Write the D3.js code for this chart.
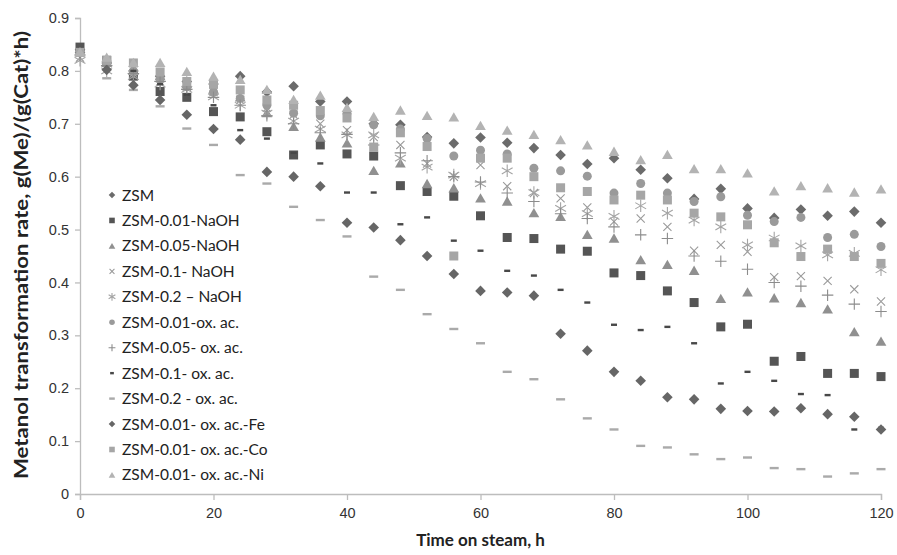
<!DOCTYPE html>
<html>
<head>
<meta charset="utf-8">
<script src="https://cdn.jsdelivr.net/npm/d3@7"></script>
<style>
  body { margin: 0; background: #fff; }
  svg { font-family: Lato, "Open Sans", sans-serif; }
</style>
</head>
<body>
<div id="chart"></div>
<script>
// time on steam, h (every 4 h)
const hours = [0,4,8,12,16,20,24,28,32,36,40,44,48,52,56,60,64,68,72,76,80,84,88,92,96,100,104,108,112,116,120];

const seriesNames = ["ZSM", "ZSM-0.01-NaOH", "ZSM-0.05-NaOH", "ZSM-0.1- NaOH", "ZSM-0.2 \u2013 NaOH",
  "ZSM-0.01-ox. ac.", "ZSM-0.05- ox. ac.", "ZSM-0.1- ox. ac.", "ZSM-0.2 - ox. ac.",
  "ZSM-0.01- ox. ac.-Fe", "ZSM-0.01- ox. ac.-Co", "ZSM-0.01- ox. ac.-Ni"];

// values, g(Me)/(g(Cat)*h)
const zsm      = [0.840,0.815,0.800,0.790,0.780,0.775,0.790,0.760,0.771,0.742,0.742,0.700,0.698,0.675,0.663,0.674,0.664,0.654,0.641,0.624,0.635,0.613,0.597,0.558,0.577,0.540,0.522,0.538,0.526,0.534,0.513];
const naoh001  = [0.845,0.820,0.790,0.761,0.750,0.723,0.713,0.685,0.641,0.660,0.643,0.639,0.583,0.572,0.563,0.526,0.485,0.483,0.463,0.459,0.418,0.413,0.384,0.362,0.316,0.321,0.251,0.260,0.228,0.228,0.222];
const naoh005  = [0.835,0.815,0.800,0.790,0.775,0.765,0.750,0.720,0.694,0.674,0.663,0.611,0.625,0.586,0.578,0.559,0.553,0.531,0.524,0.490,0.483,0.442,0.433,0.422,0.369,0.381,0.370,0.361,0.349,0.306,0.288];
const naoh01   = [0.825,0.810,0.795,0.780,0.770,0.760,0.745,0.730,0.717,0.700,0.688,0.675,0.660,0.625,0.600,0.622,0.582,0.569,0.559,0.542,0.515,0.521,0.505,0.460,0.471,0.458,0.410,0.412,0.403,0.387,0.364];
const naoh02   = [0.820,0.800,0.789,0.775,0.765,0.751,0.735,0.720,0.705,0.690,0.679,0.679,0.635,0.618,0.603,0.587,0.611,0.570,0.540,0.530,0.525,0.545,0.531,0.518,0.505,0.471,0.484,0.469,0.452,0.455,0.424];
const ox001    = [0.835,0.815,0.800,0.785,0.770,0.760,0.748,0.735,0.720,0.715,0.720,0.698,0.690,0.672,0.639,0.650,0.643,0.616,0.611,0.601,0.569,0.587,0.569,0.553,0.562,0.527,0.515,0.523,0.485,0.491,0.468];
const ox005    = [0.830,0.810,0.795,0.780,0.765,0.750,0.735,0.715,0.700,0.683,0.680,0.660,0.645,0.630,0.600,0.590,0.569,0.553,0.530,0.521,0.505,0.490,0.483,0.450,0.440,0.425,0.400,0.393,0.376,0.359,0.345];
const ox01     = [0.840,0.825,0.800,0.775,0.755,0.735,0.688,0.672,0.645,0.625,0.570,0.570,0.510,0.523,0.479,0.460,0.422,0.413,0.386,0.362,0.320,0.310,0.316,0.285,0.209,0.231,0.214,0.189,0.187,0.122,0.125];
const ox02     = [0.830,0.786,0.764,0.733,0.691,0.660,0.603,0.587,0.543,0.518,0.487,0.411,0.386,0.340,0.312,0.285,0.231,0.217,0.179,0.143,0.122,0.091,0.088,0.075,0.066,0.069,0.049,0.047,0.033,0.039,0.047];
const oxFe     = [0.835,0.802,0.773,0.745,0.717,0.690,0.670,0.609,0.600,0.582,0.513,0.504,0.480,0.450,0.416,0.384,0.381,0.375,0.303,0.271,0.231,0.214,0.183,0.179,0.161,0.157,0.156,0.162,0.151,0.146,0.122];
const oxCo     = [0.835,0.820,0.815,0.798,0.780,0.775,0.764,0.745,0.735,0.725,0.711,0.656,0.683,0.657,0.450,0.635,0.635,0.600,0.579,0.572,0.556,0.565,0.556,0.531,0.524,0.509,0.475,0.449,0.463,0.449,0.436];
const oxNi     = [0.835,0.825,0.815,0.815,0.798,0.789,0.783,0.764,0.745,0.753,0.730,0.713,0.725,0.715,0.712,0.696,0.687,0.679,0.669,0.659,0.647,0.631,0.641,0.614,0.614,0.606,0.572,0.582,0.578,0.570,0.576];

const seriesValues = [zsm, naoh001, naoh005, naoh01, naoh02, ox001, ox005, ox01, ox02, oxFe, oxCo, oxNi];

const xTicks = [0, 20, 40, 60, 80, 100, 120];
const yTicks = [0, 0.1, 0.2, 0.3, 0.4, 0.5, 0.6, 0.7, 0.8, 0.9];

// marker look per series
const styles = [
  {kind: "diamond",  color: "#6b6b6b", size: 7.5},
  {kind: "square",   color: "#555555", size: 9},
  {kind: "triangle", color: "#909090", size: 10},
  {kind: "x",        color: "#9a9a9a", size: 10},
  {kind: "asterisk", color: "#a4a4a4", size: 10},
  {kind: "circle",   color: "#9a9a9a", size: 9},
  {kind: "plus",     color: "#8c8c8c", size: 10},
  {kind: "dashS",    color: "#484848", size: 6},
  {kind: "dashL",    color: "#aaaaaa", size: 9},
  {kind: "diamond",  color: "#666666", size: 7.5},
  {kind: "square",   color: "#a6a6a6", size: 9},
  {kind: "triangle", color: "#b3b3b3", size: 10}
];

const W = 897, H = 555;
const margin = {top: 18, right: 16, bottom: 61, left: 80};
const width = W - margin.left - margin.right,
      height = H - margin.top - margin.bottom;

const svg = d3.select("#chart").append("svg")
    .attr("width", W).attr("height", H);
const g = svg.append("g")
    .attr("transform", "translate(" + margin.left + "," + margin.top + ")");

const x = d3.scaleLinear().domain([0, 120]).range([0, width]);
const y = d3.scaleLinear().domain([0, 0.9]).range([height, 0]);

// axes
const xAxis = g.append("g")
    .attr("transform", "translate(0," + height + ")")
    .call(d3.axisBottom(x).tickValues(xTicks).tickSize(6).tickPadding(8).tickFormat(d3.format("d")));
const yAxis = g.append("g")
    .call(d3.axisLeft(y).tickValues(yTicks).tickSize(5).tickPadding(6)
      .tickFormat(d => d === 0 ? "0" : d3.format(".1f")(d)));
[xAxis, yAxis].forEach(a => {
  a.selectAll("path, line").attr("stroke", "#bdbdbd").attr("stroke-width", 1.3);
  a.selectAll("text").attr("fill", "#333").style("font-size", "14.5px");
});

// draws one marker into sel at (cx, cy)
function marker(sel, st, cx, cy, scale) {
  const s = st.size * scale;
  const t = "translate(" + cx + "," + cy + ")";
  if (st.kind === "diamond") {
    sel.append("rect").attr("x", -s / 2).attr("y", -s / 2).attr("width", s).attr("height", s)
      .attr("fill", st.color).attr("transform", t + " rotate(45)");
  } else if (st.kind === "square") {
    sel.append("rect").attr("x", cx - s / 2).attr("y", cy - s / 2).attr("width", s).attr("height", s)
      .attr("fill", st.color);
  } else if (st.kind === "triangle") {
    sel.append("path").attr("d", d3.symbol(d3.symbolTriangle, s * s * 0.5)()).attr("transform", t + " translate(0,1)")
      .attr("fill", st.color);
  } else if (st.kind === "circle") {
    sel.append("circle").attr("cx", cx).attr("cy", cy).attr("r", s / 2).attr("fill", st.color);
  } else if (st.kind === "x" || st.kind === "plus") {
    const sym = st.kind === "x" ? d3.symbolX : d3.symbolPlus;
    sel.append("path").attr("d", d3.symbol(sym, s * s * 0.45)()).attr("transform", t)
      .attr("fill", "none").attr("stroke", st.color).attr("stroke-width", 1.1);
  } else if (st.kind === "asterisk") {
    sel.append("path").attr("d", d3.symbol(d3.symbolAsterisk, s * s * 1.1)()).attr("transform", t)
      .attr("fill", "none").attr("stroke", st.color).attr("stroke-width", 1.1);
  } else if (st.kind === "dashS" || st.kind === "dashL") {
    sel.append("rect").attr("x", cx - s / 2).attr("y", cy - 1.2).attr("width", s).attr("height", 2.4)
      .attr("fill", st.color);
  }
}

// points
seriesValues.forEach((vals, i) => {
  const layer = g.append("g").attr("class", "series");
  vals.forEach((v, j) => marker(layer, styles[i], x(hours[j]), y(v), 1));
});

// legend
const legend = svg.append("g").attr("transform", "translate(112,195)");
seriesNames.forEach((name, i) => {
  const row = legend.append("g").attr("transform", "translate(0," + (i * 25.45) + ")");
  marker(row, styles[i], 0, 0, 0.62);
  row.append("text").attr("x", 10).attr("y", 5.5).text(name)
    .attr("fill", "#222").style("font-size", "15.5px");
});

// titles
svg.append("text")
    .attr("x", margin.left + width / 2).attr("y", 546)
    .attr("text-anchor", "middle")
    .style("font-size", "17px").style("font-weight", "bold").attr("fill", "#222")
    .text("Time on steam, h");
svg.append("text")
    .attr("transform", "translate(28,255) rotate(-90)")
    .attr("text-anchor", "middle")
    .attr("textLength", 448).attr("lengthAdjust", "spacingAndGlyphs")
    .style("font-size", "18px").style("font-weight", "bold").attr("fill", "#222")
    .text("Metanol transformation rate, g(Me)/(g(Cat)*h)");
</script>
</body>
</html>
